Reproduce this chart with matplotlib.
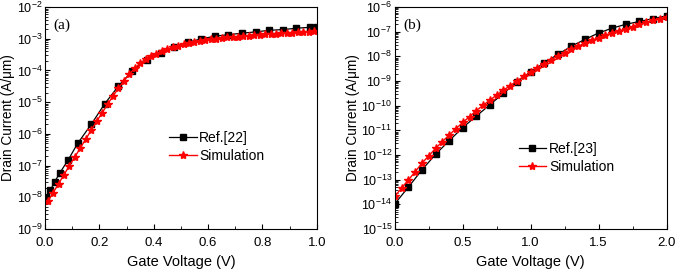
import matplotlib
matplotlib.use("Agg")
import matplotlib.pyplot as plt
from matplotlib.ticker import LogLocator, MultipleLocator, NullFormatter, FormatStrFormatter

plt.rcParams['font.family'] = ['Liberation Sans', 'DejaVu Sans']
plt.rcParams['mathtext.fontset'] = 'custom'
plt.rcParams['mathtext.rm'] = 'Liberation Sans'

# ---- panel (a) data ----
ref_a_v = [0.005, 0.02, 0.035, 0.055, 0.085, 0.12, 0.17, 0.22, 0.27, 0.32,
           0.375, 0.425, 0.475, 0.525, 0.575, 0.625, 0.675, 0.725, 0.775,
           0.825, 0.875, 0.925, 0.975, 1.0]
ref_a_i = [1.0e-8, 1.7e-8, 3.0e-8, 6.0e-8, 1.5e-7, 5.0e-7, 2.0e-6, 9.0e-6,
           3.2e-5, 9.5e-5, 2.2e-4, 3.6e-4, 5.5e-4, 7.7e-4, 1.0e-3, 1.2e-3,
           1.35e-3, 1.5e-3, 1.65e-3, 1.85e-3, 1.95e-3, 2.15e-3, 2.3e-3, 2.4e-3]

sim_a_v = [0.01, 0.03, 0.05, 0.07, 0.09, 0.11, 0.13, 0.15, 0.17, 0.19,
           0.21, 0.23, 0.25, 0.27, 0.29, 0.31, 0.33, 0.35, 0.37, 0.39,
           0.41, 0.43, 0.45, 0.47, 0.49, 0.51, 0.53, 0.55, 0.57, 0.59,
           0.61, 0.63, 0.65, 0.67, 0.69, 0.71, 0.73, 0.75, 0.77, 0.79,
           0.81, 0.83, 0.85, 0.87, 0.89, 0.91, 0.93, 0.95, 0.97, 0.99]
sim_a_i = [7.4e-9, 1.4e-8, 2.7e-8, 5.2e-8, 1.0e-7, 1.9e-7, 3.6e-7, 6.9e-7, 1.3e-6, 2.5e-6,
           4.6e-6, 8.5e-6, 1.55e-5, 2.75e-5, 4.7e-5, 7.6e-5, 1.17e-4, 1.7e-4, 2.3e-4, 2.9e-4,
           3.4e-4, 4.0e-4, 4.7e-4, 5.4e-4, 6.1e-4, 6.8e-4, 7.4e-4, 8.0e-4, 8.6e-4, 9.1e-4,
           9.6e-4, 1.0e-3, 1.05e-3, 1.1e-3, 1.14e-3, 1.18e-3, 1.22e-3, 1.26e-3, 1.3e-3, 1.33e-3,
           1.37e-3, 1.4e-3, 1.44e-3, 1.47e-3, 1.51e-3, 1.54e-3, 1.58e-3, 1.62e-3, 1.66e-3, 1.7e-3]

# ---- panel (b) data ----
ref_b_v = [0.0, 0.1, 0.2, 0.3, 0.4, 0.5, 0.6, 0.7, 0.8, 0.9, 1.0,
           1.1, 1.2, 1.3, 1.4, 1.5, 1.6, 1.7, 1.8, 1.9, 2.0]
ref_b_i = [1.05e-14, 5.0e-14, 2.5e-13, 1.07e-12, 3.8e-12, 1.3e-11, 3.8e-11,
           1.1e-10, 3.2e-10, 9.3e-10, 2.4e-9, 5.5e-9, 1.2e-8, 2.6e-8, 4.9e-8,
           8.9e-8, 1.4e-7, 2.0e-7, 2.6e-7, 3.4e-7, 4.4e-7]

sim_b_v = [0.0, 0.05, 0.1, 0.15, 0.2, 0.25, 0.3, 0.35, 0.4, 0.45, 0.5,
           0.55, 0.6, 0.65, 0.7, 0.75, 0.8, 0.85, 0.9, 0.95, 1.0,
           1.05, 1.1, 1.15, 1.2, 1.25, 1.3, 1.35, 1.4, 1.45, 1.5,
           1.55, 1.6, 1.65, 1.7, 1.75, 1.8, 1.85, 1.9, 1.95, 2.0]
sim_b_i = [2.1e-14, 4.6e-14, 9.8e-14, 2.1e-13, 4.7e-13, 9.3e-13, 1.86e-12, 3.5e-12, 6.5e-12, 1.17e-11, 2.1e-11,
           3.6e-11, 6.3e-11, 1.05e-10, 1.7e-10, 2.7e-10, 4.3e-10, 6.6e-10, 1.02e-9, 1.55e-9, 2.3e-9,
           3.5e-9, 5.1e-9, 7.2e-9, 1.02e-8, 1.4e-8, 1.95e-8, 2.6e-8, 3.5e-8, 4.5e-8, 5.8e-8,
           7.2e-8, 9.1e-8, 1.1e-7, 1.3e-7, 1.6e-7, 2.0e-7, 2.4e-7, 2.9e-7, 3.4e-7, 4.0e-7]

fig = plt.figure(figsize=(6.76, 2.72), dpi=100)
ax1 = fig.add_axes([0.0666, 0.158, 0.402, 0.816])
ax2 = fig.add_axes([0.584, 0.158, 0.402, 0.816])


def style(ax, xlim, ylim, xmajor, xminor, tag, leg_pos):
    ax.set_yscale('log')
    ax.set_xlim(*xlim)
    ax.set_ylim(*ylim)
    ax.xaxis.set_major_locator(MultipleLocator(xmajor))
    ax.xaxis.set_minor_locator(MultipleLocator(xminor))
    ax.xaxis.set_major_formatter(FormatStrFormatter('%.1f'))
    ax.yaxis.set_major_locator(LogLocator(base=10, numticks=20))
    ax.yaxis.set_minor_locator(LogLocator(base=10, subs=range(2, 10), numticks=20))
    ax.yaxis.set_minor_formatter(NullFormatter())
    ax.tick_params(which='both', direction='in', top=False, right=False, labelsize=9.5)
    ax.tick_params(axis='x', pad=6)
    ax.tick_params(axis='y', pad=2, labelsize=9)
    ax.tick_params(which='major', length=3.5)
    ax.tick_params(which='minor', length=2)
    ax.set_xlabel('Gate Voltage (V)', fontsize=10.5, labelpad=4)
    ax.set_ylabel('Drain Current (A/μm)', fontsize=9.8, labelpad=1)
    ax.text(0.03, 0.95, tag, transform=ax.transAxes, fontsize=11,
            family='Liberation Serif', va='top', ha='left')
    ax.legend(loc='center left', bbox_to_anchor=leg_pos, frameon=False,
              fontsize=10, handlelength=2.0, labelspacing=0.25, borderpad=0,
              handletextpad=0.2)


ax1.plot(ref_a_v, ref_a_i, color='black', lw=0.9, marker='s', ms=5, label='Ref.[22]')
ax1.plot(sim_a_v, sim_a_i, color='red', lw=1.0, marker='*', ms=6, label='Simulation')
style(ax1, (0, 1.0), (1e-9, 1e-2), 0.2, 0.1, '(a)', (0.43, 0.37))

ax2.plot(ref_b_v, ref_b_i, color='black', lw=0.9, marker='s', ms=5, label='Ref.[23]')
ax2.plot(sim_b_v, sim_b_i, color='red', lw=1.0, marker='*', ms=6, label='Simulation')
style(ax2, (0, 2.0), (1e-15, 1e-6), 0.5, 0.25, '(b)', (0.43, 0.32))

fig.savefig('out.png', dpi=100)
